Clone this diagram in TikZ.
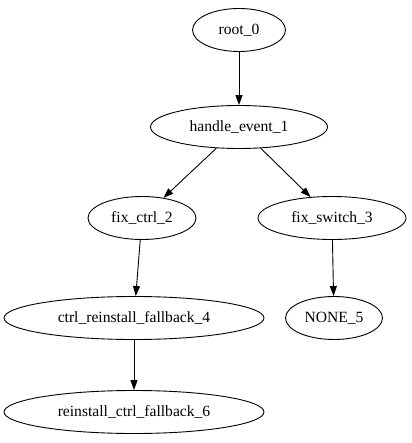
\documentclass[tikz,border=0pt]{standalone}
\usepackage{fontspec}
\setmainfont{Liberation Serif}
\usetikzlibrary{shapes.geometric,arrows.meta}
\tikzset{
  treenode/.style={ellipse, draw, line width=0.9pt, inner sep=0pt,
    minimum height=43pt, font=\fontsize{15.6pt}{18pt}\selectfont},
  edge/.style={line width=0.9pt, -{Triangle[length=10pt,width=7pt]}}
}
\begin{document}
\begin{tikzpicture}[x=1pt,y=-1pt]
\useasboundingbox (0,0) rectangle (411,443);
\node[treenode, minimum width=93pt]  (n0) at (239,30)  {root\_0};
\node[treenode, minimum width=177pt] (n1) at (239,127) {handle\_event\_1};
\node[treenode, minimum width=108pt] (n2) at (142,218) {fix\_ctrl\_2};
\node[treenode, minimum width=148pt] (n3) at (332,218) {fix\_switch\_3};
\node[treenode, minimum width=260pt] (n4) at (134,318) {ctrl\_reinstall\_fallback\_4};
\node[treenode, minimum width=97pt]  (n5) at (334,318) {NONE\_5};
\node[treenode, minimum width=260pt] (n6) at (134,412) {reinstall\_ctrl\_fallback\_6};
\draw[edge] (n0) -- (n1);
\draw[edge] (n1) -- (n2);
\draw[edge] (n1) -- (n3);
\draw[edge] (n2) -- (n4);
\draw[edge] (n3) -- (n5);
\draw[edge] (n4) -- (n6);
\end{tikzpicture}
\end{document}
